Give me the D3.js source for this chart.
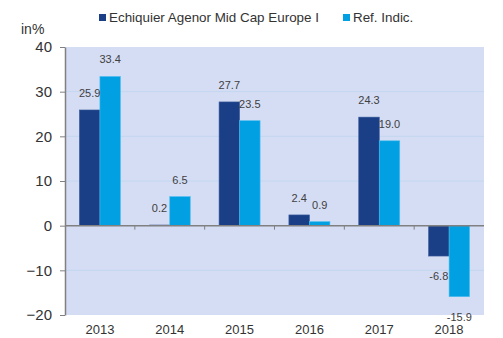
<!DOCTYPE html>
<html>
<head>
<meta charset="utf-8">
<script src="https://cdn.jsdelivr.net/npm/d3@7"></script>
<style>
  html, body { margin: 0; padding: 0; background: #fff; }
  svg { display: block; font-family: Arial, "Liberation Sans", sans-serif; }
</style>
</head>
<body>
<svg id="chart" width="503" height="338"></svg>
<script>
// Annual performance, fund vs reference index (in %)
const years = ["2013", "2014", "2015", "2016", "2017", "2018"];
const seriesNames = ["Echiquier Agenor Mid Cap Europe I", "Ref. Indic."];
const fundValues = [25.9, 0.2, 27.7, 2.4, 24.3, -6.8];
const indexValues = [33.4, 6.5, 23.5, 0.9, 19.0, -15.9];
const yTicks = [-20, -10, 0, 10, 20, 30, 40];
const colors = ["#1b3f86", "#00a0e2"];

const svg = d3.select("#chart");
const plot = { left: 65, right: 484, top: 47, bottom: 315 };

const y = d3.scaleLinear().domain([-20, 40]).range([plot.bottom, plot.top]);
const x0 = d3.scaleBand().domain(years).range([plot.left, plot.right]);
const groupHalf = 20.5;
const x1 = d3.scaleBand().domain(seriesNames)
  .range([x0.bandwidth() / 2 - groupHalf, x0.bandwidth() / 2 + groupHalf]);

const rows = years.map((yr, i) => ({
  year: yr,
  values: [
    { name: seriesNames[0], value: fundValues[i], c: colors[0] },
    { name: seriesNames[1], value: indexValues[i], c: colors[1] }
  ]
}));

// plot background
svg.append("rect")
  .attr("x", plot.left).attr("y", plot.top)
  .attr("width", plot.right - plot.left).attr("height", plot.bottom - plot.top)
  .attr("fill", "#d5ddf4");

// horizontal gridlines
svg.append("g").selectAll("line")
  .data(yTicks.filter(t => t !== 0 && t !== -20 && t !== 40))
  .join("line")
  .attr("x1", plot.left).attr("x2", plot.right)
  .attr("y1", d => y(d)).attr("y2", d => y(d))
  .attr("stroke", "#c3d6f0").attr("stroke-width", 1);

// y axis
const yAxis = svg.append("g")
  .attr("transform", `translate(${plot.left},0)`)
  .call(d3.axisLeft(y).tickValues(yTicks).tickSize(5).tickPadding(8).tickSizeOuter(0));
yAxis.select(".domain").attr("stroke", "#808080").attr("stroke-width", 1.5);
yAxis.selectAll(".tick line").attr("stroke", "#808080");
yAxis.selectAll(".tick text")
  .attr("fill", "#333").style("font-size", "15px")
  .style("font-family", "Arial, 'Liberation Sans', sans-serif");

svg.append("text")
  .attr("x", 21).attr("y", 34)
  .attr("fill", "#333").style("font-size", "14px")
  .text("in%");

// bars
const groups = svg.append("g").selectAll("g")
  .data(rows).join("g")
  .attr("transform", d => `translate(${x0(d.year)},0)`);

groups.selectAll("rect")
  .data(d => d.values).join("rect")
  .attr("x", d => x1(d.name))
  .attr("width", x1.bandwidth())
  .attr("y", d => y(Math.max(0, d.value)))
  .attr("height", d => Math.abs(y(d.value) - y(0)))
  .attr("fill", d => d.c)
  .attr("stroke", d => Math.abs(d.value) < 0.5 ? "none" : (d.c === colors[1] ? "#4fbdee" : "#3a5a9a"))
  .attr("stroke-width", 0.6);

// value labels
groups.selectAll("text")
  .data(d => d.values).join("text")
  .attr("x", d => x1(d.name) + x1.bandwidth() / 2)
  .attr("y", d => d.value >= 0 ? y(d.value) - 13 : y(d.value) + 24)
  .attr("text-anchor", "middle")
  .attr("fill", "#404040").style("font-size", "11px")
  .text(d => d.value.toFixed(1));

// zero line
svg.append("line")
  .attr("x1", plot.left).attr("x2", plot.right)
  .attr("y1", y(0)).attr("y2", y(0))
  .attr("stroke", "#808080").attr("stroke-width", 1.5);

// category separators below the zero line
svg.append("g").selectAll("line")
  .data(years.slice(1))
  .join("line")
  .attr("x1", d => x0(d)).attr("x2", d => x0(d))
  .attr("y1", y(0)).attr("y2", y(0) + 4)
  .attr("stroke", "#808080");

// category labels
svg.append("g").selectAll("text")
  .data(years).join("text")
  .attr("x", d => x0(d) + x0.bandwidth() / 2)
  .attr("y", 334)
  .attr("text-anchor", "middle")
  .attr("fill", "#333").style("font-size", "13px")
  .text(d => d);

// legend
const legendItems = [
  { name: seriesNames[0], c: colors[0], x: 99 },
  { name: seriesNames[1], c: colors[1], x: 343 }
];
const lg = svg.append("g").selectAll("g").data(legendItems).join("g")
  .attr("transform", d => `translate(${d.x},13)`);
lg.append("rect").attr("width", 7).attr("height", 7).attr("y", 1).attr("fill", d => d.c);
lg.append("text").attr("x", 10).attr("y", 9)
  .attr("fill", "#333").style("font-size", "13.4px")
  .text(d => d.name);
</script>
</body>
</html>
